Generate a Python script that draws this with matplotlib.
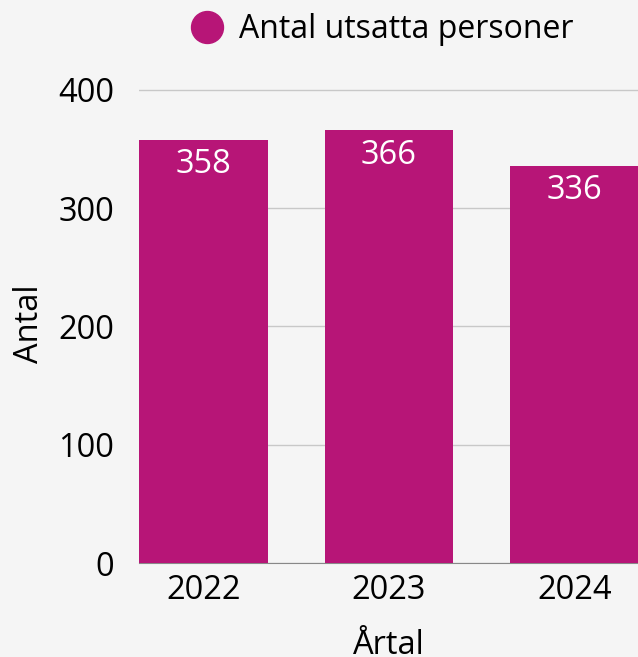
import numpy as np
import matplotlib.pyplot as plt
from matplotlib.lines import Line2D

# Data
years = ['2022', '2023', '2024']
antal = [358, 366, 336]
serie_namn = 'Antal utsatta personer'

BAR_COLOR = '#b71577'
BG = '#f5f5f5'
FS = 23.5

plt.rcParams['font.family'] = ['Open Sans', 'DejaVu Sans']

fig = plt.figure(figsize=(6.38, 6.57), dpi=100, facecolor=BG)
ax = fig.add_axes([139 / 638, (657 - 563) / 657, 1 - 139 / 638, (563 - 84) / 657])
ax.set_facecolor(BG)

x = np.arange(len(years))
ax.bar(x, antal, width=0.695, color=BAR_COLOR, zorder=3)

# värden inuti staplarna
for xi, v in zip(x, antal):
    ax.annotate(str(v), (xi, v), xytext=(0, -25), textcoords='offset pixels',
                ha='center', va='center', color='white', fontsize=FS, zorder=4)

ax.set_xlim(-0.3477, 2.342)
ax.set_ylim(0, 405)
ax.set_yticks([0, 100, 200, 300, 400])
ax.set_xticks(x)
ax.set_xticklabels(years)
ax.tick_params(axis='both', length=0, labelsize=FS)
ax.tick_params(axis='y', pad=18)
ax.tick_params(axis='x', pad=8)

ax.grid(axis='y', color='#c8c8c8', linewidth=1, zorder=0)
for s in ['top', 'right', 'left']:
    ax.spines[s].set_visible(False)
ax.spines['bottom'].set_color('#888888')
ax.spines['bottom'].set_zorder(2)

ax.set_xlabel('Årtal', fontsize=FS, labelpad=16)
ax.set_ylabel('Antal', fontsize=FS, labelpad=9)

# legend
handle = Line2D([], [], marker='o', linestyle='', markersize=23,
                markerfacecolor=BAR_COLOR, markeredgecolor=BAR_COLOR)
fig.legend([handle], [serie_namn], loc='center left', bbox_to_anchor=(191 / 638, 1 - 30 / 657),
           frameon=False, fontsize=23, handlelength=1.0, handletextpad=0.5,
           borderpad=0, borderaxespad=0)

fig.savefig('out.png', dpi=100, facecolor=BG)
